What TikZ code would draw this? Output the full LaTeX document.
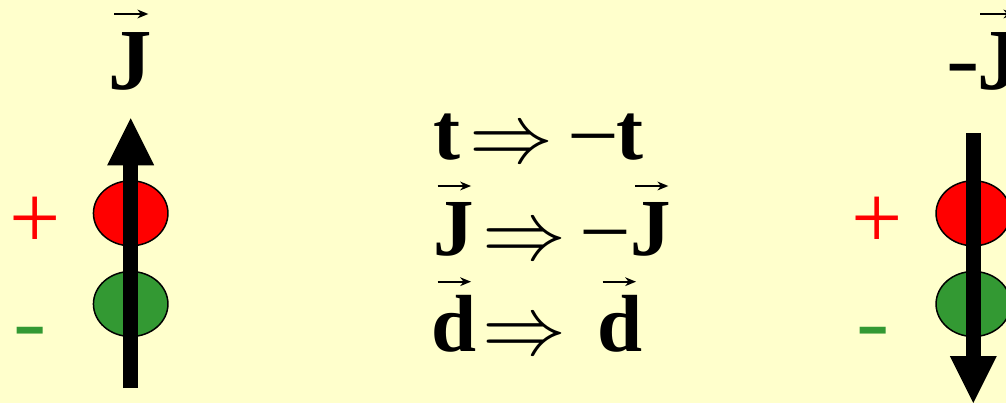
\documentclass[tikz,border=0pt]{standalone}
\usepackage{fontspec}
\usepackage{graphicx}
\setmainfont{Liberation Serif}
\usetikzlibrary{shapes.geometric,arrows.meta,calc}
\definecolor{bg}{HTML}{FFFFCC}
\definecolor{pgreen}{HTML}{339933}
\tikzset{
  blob/.style={ellipse,draw=black,line width=1.5pt,minimum width=74.5pt,minimum height=65pt,inner sep=0pt},
  bigarrow/.style={line width=15pt,-{Triangle[length=47pt,width=47pt,line width=0pt]}},
  sym/.style={inner sep=0pt,anchor=base west,font=\fontsize{81}{97}\selectfont\bfseries},
  negsign/.style={inner sep=0pt,anchor=base west,font=\fontsize{85}{100}\selectfont},
  lbl/.style={inner sep=0pt,anchor=base west,font=\fontsize{87}{100}\selectfont\bfseries},
  impl/.style={inner sep=0pt,anchor=base west},
  vecarr/.style={line width=2pt,-{Stealth[length=11pt,width=9pt,line width=0pt]}},
  plussign/.style={inner sep=0pt,text=red,font=\fontsize{91}{100}\selectfont},
  minussign/.style={inner sep=0pt,anchor=base,text=pgreen,font=\fontsize{80}{96}\selectfont\bfseries},
}
\newcommand{\bigimpl}{\scalebox{8.4}{$\Rightarrow$}}
\newcommand{\longneg}{\scalebox{1.08}[1]{−}}
\begin{document}
\begin{tikzpicture}[x=1pt,y=-1pt]
\useasboundingbox (0,0) rectangle (1006,403);
\fill[bg] (0,0) rectangle (1006,403);
\clip (0,0) rectangle (1006,403);

% ---------- left dipole ----------
\node[blob,fill=red] (redL) at (130.7,213.3) {};
\node[blob,fill=pgreen] (greenL) at (130.7,304) {};
\coordinate (aLs) at (130.7,388);
\coordinate (aLe) at (130.7,118.3);
\draw[bigarrow] (aLs) -- (aLe);
\node[plussign] (plusL) at (35,222.7) {+};
\node[minussign] (minusL) at (30.5,349.5) {\scalebox{1.25}[1]{-}};
\node[lbl] (JL) at (108.7,90) {J};
\draw[vecarr] ($(JL.base west)+(5.3,-76)$) -- ++(34.3,0);

% ---------- right dipole ----------
\node[blob,fill=red] (redR) at (973.3,213.3) {};
\node[blob,fill=pgreen] (greenR) at (973.3,304) {};
\coordinate (aRs) at (973.3,133.3);
\coordinate (aRe) at (973.3,403);
\draw[bigarrow] (aRs) -- (aRe);
\node[plussign] (plusR) at (876.7,223) {+};
\node[minussign] (minusR) at (873.3,349.5) {\scalebox{1.25}[1]{-}};
\node[minussign,text=black] (mJR) at (963.5,86.3) {\scalebox{1.25}[1]{-}};
\node[lbl] (JR) at (977,90) {J};
\draw[vecarr] ($(JR.base west)+(3,-76)$) -- ++(34.3,0);

% ---------- centre relations ----------
% line 1
\node[sym] (t1) at (433.4,160) {t};
\node[impl] (imp1) at (469.3,163) {\bigimpl};
\node[negsign] (m1) at (567,165) {\longneg};
\node[sym] (t2) at (616.4,160) {t};
% line 2
\node[sym] (J1) at (433,256) {J};
\draw[vecarr] ($(J1.base west)+(4.7,-70)$) -- ++(33.3,0);
\node[impl] (imp2) at (482,259) {\bigimpl};
\node[negsign] (m2) at (579.7,261) {\longneg};
\node[sym] (J2) at (630.4,256) {J};
\draw[vecarr] ($(J2.base west)+(4.6,-70)$) -- ++(33.3,0);
% line 3
\node[sym] (d1) at (431.7,351) {d};
\draw[vecarr] ($(d1.base west)+(6,-69.3)$) -- ++(33.3,0);
\node[impl] (imp3) at (482,354) {\bigimpl};
\node[sym] (d2) at (597.4,351) {d};
\draw[vecarr] ($(d2.base west)+(5.3,-69.3)$) -- ++(33.3,0);
\end{tikzpicture}
\end{document}
